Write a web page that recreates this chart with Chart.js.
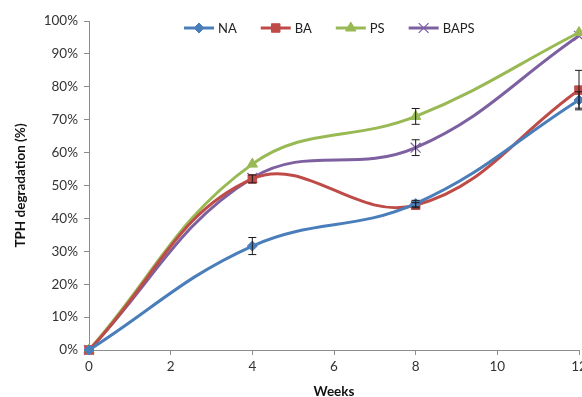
<!DOCTYPE html>
<html>
<head>
<meta charset="utf-8">
<script src="https://cdn.jsdelivr.net/npm/chart.js@4.4.1/dist/chart.umd.min.js"></script>
<style>
  html, body { margin: 0; padding: 0; background: #fff; overflow: hidden; }
  #wrap { width: 620px; height: 400px; }
</style>
</head>
<body>
<div id="wrap"><canvas id="tph" width="620" height="400"></canvas></div>
<script>
// weeks and TPH degradation (%)
var weeks = [0, 4, 8, 12];
var naVals   = [0, 31.6, 44.5, 76];
var baVals   = [0, 52, 44, 79];
var psVals   = [0, 56.5, 71, 96.5];
var bapsVals = [0, 52.3, 61.5, 95.5];
// error bars (+/-)
var naErr   = [0, 2.6, 1, 2.5];
var baErr   = [0, 1.2, 0.8, 6];
var psErr   = [0, 0, 2.4, 0];
var bapsErr = [0, 0, 2.4, 0];
var yTicks = [0, 10, 20, 30, 40, 50, 60, 70, 80, 90, 100];

var FONT = "Lato, 'Open Sans', sans-serif";

function pts(vals, errs) {
  return weeks.map(function (w, i) { return { x: w, y: vals[i], err: errs[i] }; });
}

function series(label, vals, errs, color, style, radius, bw) {
  return {
    label: label,
    data: pts(vals, errs),
    borderColor: color,
    backgroundColor: color,
    borderWidth: 3,
    tension: 0.4,
    pointStyle: style,
    pointRadius: radius,
    pointBorderWidth: bw,
    pointBackgroundColor: color,
    pointBorderColor: color,
    clip: false
  };
}

// whiskers drawn through the scales
var errorBars = {
  id: 'errorBars',
  afterDatasetsDraw: function (chart) {
    var ctx = chart.ctx, xs = chart.scales.x, ys = chart.scales.y;
    ctx.save();
    ctx.strokeStyle = '#1a1a1a';
    ctx.lineWidth = 1;
    chart.data.datasets.forEach(function (ds) {
      ds.data.forEach(function (p) {
        if (!p.err) return;
        var x = xs.getPixelForValue(p.x);
        var y1 = ys.getPixelForValue(p.y + p.err);
        var y2 = ys.getPixelForValue(p.y - p.err);
        ctx.beginPath();
        ctx.moveTo(x, y1); ctx.lineTo(x, y2);
        ctx.moveTo(x - 4, y1); ctx.lineTo(x + 4, y1);
        ctx.moveTo(x - 4, y2); ctx.lineTo(x + 4, y2);
        ctx.stroke();
      });
    });
    ctx.restore();
  }
};

// legend drawn inside the plot, line + marker like the original
var innerLegend = {
  id: 'innerLegend',
  afterDraw: function (chart) {
    var ctx = chart.ctx;
    var x = 184, y = 28;
    ctx.save();
    ctx.font = '13px ' + FONT;
    ctx.textBaseline = 'middle';
    chart.data.datasets.forEach(function (ds) {
      ctx.strokeStyle = ds.borderColor;
      ctx.lineWidth = 3;
      ctx.beginPath();
      ctx.moveTo(x, y); ctx.lineTo(x + 30, y);
      ctx.stroke();
      ctx.fillStyle = ds.borderColor;
      ctx.lineWidth = ds.pointBorderWidth;
      Chart.helpers.drawPoint(ctx, { pointStyle: ds.pointStyle, radius: ds.pointRadius, rotation: 0, borderWidth: ds.pointBorderWidth }, x + 15, y);
      ctx.fillStyle = '#222';
      ctx.fillText(ds.label, x + 34, y + 1);
      x += 34 + ctx.measureText(ds.label).width + 24;
    });
    ctx.restore();
  }
};

new Chart(document.getElementById('tph'), {
  type: 'line',
  data: {
    datasets: [
      series('NA', naVals, naErr, '#4a7ebb', 'rectRot', 5, 1),
      series('BA', baVals, baErr, '#be4b48', 'rect', 6, 1),
      series('PS', psVals, psErr, '#98b954', 'triangle', 6, 1),
      series('BAPS', bapsVals, bapsErr, '#7d60a0', 'crossRot', 7, 1.2)
    ]
  },
  options: {
    responsive: false,
    animation: false,
    layout: { padding: { left: 0, right: 41, top: 21, bottom: 0 } },
    plugins: { legend: { display: false }, tooltip: { enabled: false } },
    scales: {
      x: {
        type: 'linear',
        min: 0, max: 12,
        afterFit: function (s) { s.height = 50; },
        grid: { drawOnChartArea: false, drawTicks: true, tickLength: 5, color: '#8c8c8c' },
        border: { color: '#8c8c8c', width: 1 },
        ticks: { stepSize: 2, padding: 4, color: '#333', font: { family: FONT, size: 13.5 } },
        title: { display: true, text: 'Weeks', color: '#111', padding: { top: 0, bottom: 0 }, font: { family: FONT, size: 13.5, weight: 'bold' } }
      },
      y: {
        min: 0, max: 100,
        afterFit: function (s) { s.width = 89; },
        afterBuildTicks: function (s) { s.ticks = yTicks.map(function (v) { return { value: v }; }); },
        grid: { drawOnChartArea: false, drawTicks: true, tickLength: 5, color: '#8c8c8c' },
        border: { color: '#8c8c8c', width: 1 },
        ticks: { padding: 6, color: '#333', font: { family: FONT, size: 13.5 }, callback: function (v) { return v + '%'; } },
        title: { display: true, text: 'TPH degradation (%)', color: '#111', padding: { top: 13, bottom: 0 }, font: { family: FONT, size: 13.5, weight: 'bold' } }
      }
    }
  },
  plugins: [errorBars, innerLegend]
});
</script>
</body>
</html>
